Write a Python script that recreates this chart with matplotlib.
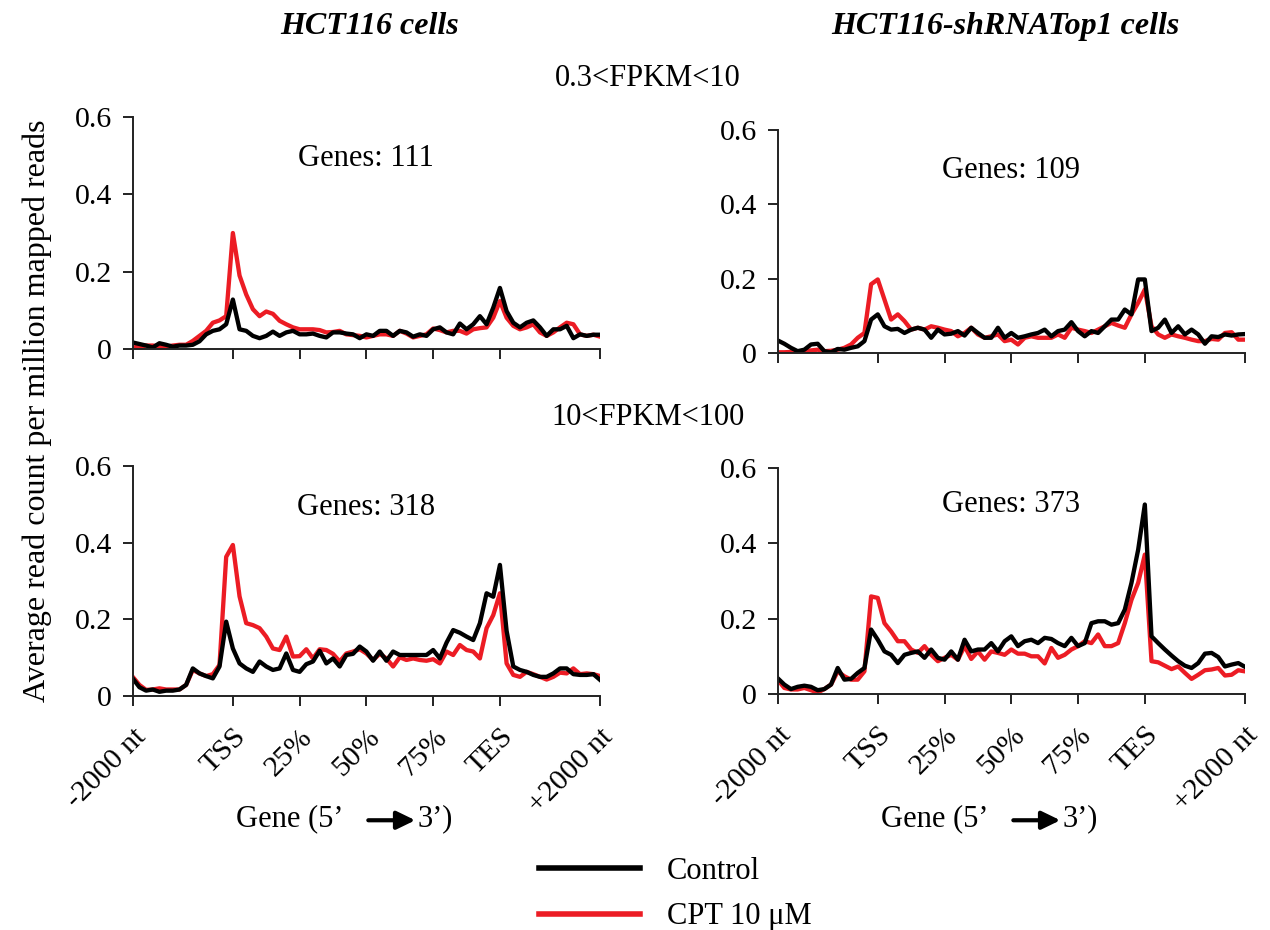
import numpy as np
import matplotlib
matplotlib.use("Agg")
import matplotlib.pyplot as plt
from matplotlib.lines import Line2D
from matplotlib.patches import FancyArrowPatch

plt.rcParams['font.family'] = ['Liberation Serif', 'DejaVu Serif']

# metagene bins: 15 upstream, 40 gene body, 15 downstream
bins = np.arange(71)
tick_pos = [0, 15, 25, 35, 45, 55, 70]
tick_labels = ['-2000 nt', 'TSS', '25%', '50%', '75%', 'TES', '+2000 nt']

# HCT116, 0.3<FPKM<10
tl_cpt = [0.004, 0.006, 0.009, 0.009, 0.007, 0.006, 0.009, 0.011, 0.011, 0.021,
          0.034, 0.047, 0.068, 0.074, 0.085, 0.300, 0.190, 0.141, 0.103, 0.085,
          0.097, 0.091, 0.073, 0.064, 0.056, 0.051, 0.051, 0.051, 0.049, 0.043,
          0.044, 0.047, 0.038, 0.036, 0.034, 0.030, 0.034, 0.038, 0.038, 0.034,
          0.047, 0.040, 0.030, 0.034, 0.038, 0.053, 0.049, 0.043, 0.047, 0.047,
          0.040, 0.051, 0.054, 0.056, 0.081, 0.124, 0.081, 0.060, 0.051, 0.056,
          0.064, 0.043, 0.034, 0.043, 0.056, 0.068, 0.064, 0.038, 0.034, 0.037, 0.032]
tl_ctrl = [0.017, 0.013, 0.009, 0.004, 0.015, 0.011, 0.006, 0.009, 0.009, 0.011,
           0.020, 0.038, 0.047, 0.051, 0.064, 0.128, 0.051, 0.047, 0.034, 0.028,
           0.034, 0.045, 0.034, 0.043, 0.047, 0.038, 0.038, 0.040, 0.034, 0.030,
           0.043, 0.043, 0.040, 0.038, 0.028, 0.038, 0.034, 0.047, 0.047, 0.034,
           0.047, 0.043, 0.032, 0.038, 0.034, 0.051, 0.056, 0.043, 0.038, 0.066,
           0.051, 0.064, 0.085, 0.064, 0.107, 0.158, 0.098, 0.068, 0.056, 0.068,
           0.074, 0.056, 0.034, 0.051, 0.051, 0.060, 0.028, 0.038, 0.034, 0.037, 0.037]

# HCT116-shRNATop1, 0.3<FPKM<10
tr_cpt = [0.002, 0.002, 0.003, 0.002, 0.005, 0.007, 0.009, 0.005, 0.006, 0.009,
          0.014, 0.023, 0.041, 0.054, 0.185, 0.198, 0.144, 0.090, 0.104, 0.086,
          0.063, 0.068, 0.063, 0.072, 0.068, 0.063, 0.059, 0.045, 0.054, 0.068,
          0.050, 0.041, 0.045, 0.050, 0.032, 0.036, 0.023, 0.041, 0.045, 0.041,
          0.041, 0.041, 0.050, 0.041, 0.068, 0.063, 0.059, 0.054, 0.063, 0.072,
          0.081, 0.074, 0.068, 0.104, 0.135, 0.171, 0.072, 0.050, 0.041, 0.050,
          0.045, 0.041, 0.036, 0.032, 0.032, 0.038, 0.036, 0.054, 0.056, 0.036, 0.036]
tr_ctrl = [0.034, 0.025, 0.014, 0.005, 0.009, 0.023, 0.025, 0.005, 0.002, 0.011,
           0.009, 0.014, 0.018, 0.032, 0.090, 0.104, 0.072, 0.063, 0.065, 0.054,
           0.063, 0.068, 0.063, 0.041, 0.063, 0.050, 0.052, 0.059, 0.047, 0.068,
           0.054, 0.041, 0.041, 0.068, 0.041, 0.054, 0.041, 0.045, 0.050, 0.054,
           0.063, 0.045, 0.059, 0.063, 0.083, 0.059, 0.045, 0.059, 0.054, 0.072,
           0.090, 0.090, 0.117, 0.104, 0.198, 0.198, 0.059, 0.068, 0.090, 0.054,
           0.072, 0.050, 0.063, 0.050, 0.025, 0.045, 0.043, 0.050, 0.047, 0.050, 0.051]

# HCT116, 10<FPKM<100
bl_cpt = [0.050, 0.029, 0.016, 0.017, 0.020, 0.017, 0.017, 0.017, 0.029, 0.068,
          0.059, 0.052, 0.057, 0.081, 0.363, 0.394, 0.260, 0.190, 0.185, 0.177,
          0.155, 0.124, 0.120, 0.155, 0.103, 0.104, 0.122, 0.098, 0.122, 0.120,
          0.110, 0.090, 0.111, 0.116, 0.122, 0.111, 0.094, 0.110, 0.098, 0.077,
          0.101, 0.094, 0.098, 0.094, 0.092, 0.096, 0.085, 0.116, 0.107, 0.133,
          0.120, 0.116, 0.098, 0.177, 0.211, 0.268, 0.085, 0.055, 0.050, 0.063,
          0.057, 0.050, 0.043, 0.050, 0.061, 0.059, 0.072, 0.057, 0.059, 0.057, 0.052]
bl_ctrl = [0.046, 0.023, 0.014, 0.017, 0.011, 0.014, 0.014, 0.017, 0.029, 0.072,
           0.059, 0.052, 0.046, 0.077, 0.194, 0.124, 0.085, 0.072, 0.063, 0.090,
           0.077, 0.068, 0.072, 0.111, 0.068, 0.063, 0.083, 0.090, 0.118, 0.085,
           0.098, 0.077, 0.107, 0.110, 0.129, 0.116, 0.092, 0.116, 0.092, 0.116,
           0.107, 0.107, 0.107, 0.107, 0.107, 0.120, 0.098, 0.139, 0.172, 0.165,
           0.155, 0.146, 0.190, 0.268, 0.259, 0.342, 0.170, 0.077, 0.068, 0.063,
           0.055, 0.050, 0.050, 0.059, 0.072, 0.072, 0.057, 0.055, 0.055, 0.057, 0.042]

# HCT116-shRNATop1, 10<FPKM<100
br_cpt = [0.038, 0.016, 0.012, 0.012, 0.016, 0.010, 0.004, 0.013, 0.025, 0.060,
          0.047, 0.038, 0.038, 0.060, 0.259, 0.255, 0.188, 0.166, 0.140, 0.140,
          0.118, 0.109, 0.127, 0.104, 0.087, 0.096, 0.104, 0.091, 0.127, 0.093,
          0.113, 0.091, 0.113, 0.109, 0.104, 0.118, 0.107, 0.107, 0.100, 0.100,
          0.081, 0.122, 0.096, 0.104, 0.118, 0.127, 0.140, 0.135, 0.158, 0.127,
          0.127, 0.135, 0.188, 0.250, 0.295, 0.370, 0.087, 0.084, 0.075, 0.066,
          0.073, 0.056, 0.040, 0.051, 0.063, 0.065, 0.069, 0.049, 0.051, 0.063, 0.060]
br_ctrl = [0.042, 0.025, 0.013, 0.019, 0.022, 0.019, 0.010, 0.013, 0.025, 0.069,
           0.038, 0.040, 0.056, 0.069, 0.171, 0.144, 0.113, 0.104, 0.082, 0.104,
           0.109, 0.113, 0.096, 0.118, 0.096, 0.091, 0.113, 0.091, 0.144, 0.113,
           0.118, 0.118, 0.135, 0.113, 0.140, 0.153, 0.127, 0.140, 0.144, 0.135,
           0.149, 0.146, 0.135, 0.127, 0.149, 0.127, 0.135, 0.188, 0.193, 0.193,
           0.184, 0.188, 0.224, 0.295, 0.383, 0.503, 0.153, 0.135, 0.118, 0.102,
           0.087, 0.075, 0.069, 0.082, 0.107, 0.109, 0.098, 0.073, 0.078, 0.082, 0.072]

gene_counts = [111, 109, 318, 373]
red = '#ec1c24'
lw = 3.1
fs = 21.5

fig = plt.figure(figsize=(12.7, 9.3), dpi=100)

# panel rectangles in figure fractions
rects = [
    [0.1045, 0.6247, 0.3680, 0.2495],
    [0.6123, 0.6204, 0.3680, 0.2398],
    [0.1045, 0.2516, 0.3680, 0.2473],
    [0.6123, 0.2538, 0.3680, 0.2430],
]
series = [(tl_ctrl, tl_cpt), (tr_ctrl, tr_cpt), (bl_ctrl, bl_cpt), (br_ctrl, br_cpt)]

for k, (rect, (ctrl, cpt)) in enumerate(zip(rects, series)):
    ax = fig.add_axes(rect)
    ax.plot(bins, cpt, color=red, lw=lw, solid_joinstyle='round')
    ax.plot(bins, ctrl, color='black', lw=lw, solid_joinstyle='round')
    ax.set_xlim(0, 70)
    ax.set_ylim(0, 0.6)
    ax.set_yticks([0, 0.2, 0.4, 0.6])
    ax.set_yticklabels(['0', '0.2', '0.4', '0.6'], fontsize=fs)
    ax.set_xticks(tick_pos)
    if k >= 2:
        ax.set_xticklabels(tick_labels, fontsize=fs, rotation=45,
                           ha='right', va='top', rotation_mode='anchor')
    else:
        ax.set_xticklabels([])
    for s in ['top', 'right']:
        ax.spines[s].set_visible(False)
    for s in ['left', 'bottom']:
        ax.spines[s].set_linewidth(1.4)
        ax.spines[s].set_color('#222222')
    ax.tick_params(axis='both', direction='out', length=7, width=1.4, color='#222222')
    ax.tick_params(axis='y', pad=8)
    ax.tick_params(axis='x', pad=13)
    ax.text(0.5, 0.82 if k != 3 else 0.84, f'Genes: {gene_counts[k]}',
            transform=ax.transAxes, ha='center', va='center', fontsize=22)

# x-axis caption with arrow under the bottom panels (figure coordinates)
cap_y = 0.120
for dx in [0.0, 0.5079]:
    fig.text(0.270 + dx, cap_y, 'Gene (5’', ha='right', va='center', fontsize=22)
    fig.patches.append(FancyArrowPatch(
        (0.290 + dx, cap_y - 0.002), (0.327 + dx, cap_y - 0.002),
        transform=fig.transFigure, figure=fig,
        arrowstyle='-|>,head_length=7,head_width=3.4',
        mutation_scale=1.6, color='black', lw=3.0,
        shrinkA=0, shrinkB=0))
    fig.text(0.329 + dx, cap_y, '3’)', ha='left', va='center', fontsize=22)

fig.text(0.291, 0.972, 'HCT116 cells', ha='center', va='center', fontsize=23,
         fontweight='bold', fontstyle='italic')
fig.text(0.792, 0.972, 'HCT116-shRNATop1 cells', ha='center', va='center',
         fontsize=23, fontweight='bold', fontstyle='italic')
fig.text(0.51, 0.916, '0.3<FPKM<10', ha='center', va='center', fontsize=22)
fig.text(0.51, 0.551, '10<FPKM<100', ha='center', va='center', fontsize=22)
fig.text(0.029, 0.558, 'Average read count per million mapped reads',
         rotation=90, ha='center', va='center', fontsize=23)

handles = [Line2D([], [], color='black', lw=4), Line2D([], [], color=red, lw=4)]
fig.legend(handles, ['Control', 'CPT 10 μM'], loc='upper left',
           bbox_to_anchor=(0.4243, 0.079), frameon=False, fontsize=22,
           handlelength=3.3, handletextpad=0.9, labelspacing=0.55,
           borderpad=0, borderaxespad=0)

fig.savefig('out.png', dpi=100)
